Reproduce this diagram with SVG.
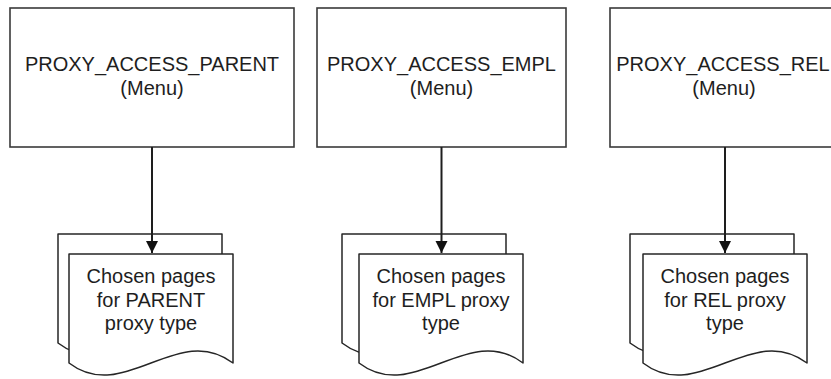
<svg xmlns="http://www.w3.org/2000/svg" width="831" height="379" viewBox="0 0 831 379">
  <style>
    .box { fill: #ffffff; stroke: #3a3a3a; stroke-width: 1.6; }
    .page { fill: #ffffff; stroke: #262626; stroke-width: 1.5; stroke-linejoin: round; }
    .lbl { font-family: "Liberation Sans", Arial, sans-serif; font-size: 20px; fill: #1e1e1e; text-anchor: middle; }
    .edge { stroke: #1e1e1e; stroke-width: 2; fill: none; }
  </style>
  <defs>
    <!-- document shape: 164 wide, flat top, wavy bottom -->
    <path id="doc" d="M0,0 H164 V109 C109,67 55,151 0,109 Z"/>
    <marker id="arrow" viewBox="0 0 12 13" refX="12" refY="6" markerWidth="12" markerHeight="13" markerUnits="userSpaceOnUse" orient="auto">
      <path d="M0,0 L12,6 L0,12 Z" fill="#111111"/>
    </marker>
  </defs>

  <rect width="831" height="379" fill="#ffffff"/>

  <g id="menu-parent">
    <rect class="box" x="10" y="8" width="284" height="139"/>
    <text class="lbl" x="152" y="71">PROXY_ACCESS_PARENT</text>
    <text class="lbl" x="152" y="95">(Menu)</text>
  </g>

  <g id="menu-empl">
    <rect class="box" x="317" y="8" width="249" height="139"/>
    <text class="lbl" x="441.5" y="71">PROXY_ACCESS_EMPL</text>
    <text class="lbl" x="441.5" y="95">(Menu)</text>
  </g>

  <g id="menu-rel">
    <rect class="box" x="610" y="8" width="240" height="139"/>
    <text class="lbl" x="723" y="71">PROXY_ACCESS_REL</text>
    <text class="lbl" x="724" y="95">(Menu)</text>
  </g>

  <g id="pages-parent">
    <use href="#doc" class="page" transform="translate(58,234)"/>
    <use href="#doc" class="page" transform="translate(69,254)"/>
    <text class="lbl" x="151" y="283">Chosen pages</text>
    <text class="lbl" x="151" y="306.5">for PARENT</text>
    <text class="lbl" x="151" y="330">proxy type</text>
  </g>

  <g id="pages-empl">
    <use href="#doc" class="page" transform="translate(342,234)"/>
    <use href="#doc" class="page" transform="translate(359,254)"/>
    <text class="lbl" x="441" y="283">Chosen pages</text>
    <text class="lbl" x="441" y="306.5">for EMPL proxy</text>
    <text class="lbl" x="441" y="330">type</text>
  </g>

  <g id="pages-rel">
    <use href="#doc" class="page" transform="translate(630,234)"/>
    <use href="#doc" class="page" transform="translate(643,254)"/>
    <text class="lbl" x="725" y="283">Chosen pages</text>
    <text class="lbl" x="725" y="306.5">for REL proxy</text>
    <text class="lbl" x="725" y="330">type</text>
  </g>

  <g id="connectors">
    <line class="edge" x1="152" y1="147" x2="152" y2="253" marker-end="url(#arrow)"/>
    <line class="edge" x1="441.5" y1="147" x2="441.5" y2="253" marker-end="url(#arrow)"/>
    <line class="edge" x1="725" y1="147" x2="725" y2="253" marker-end="url(#arrow)"/>
  </g>
</svg>
